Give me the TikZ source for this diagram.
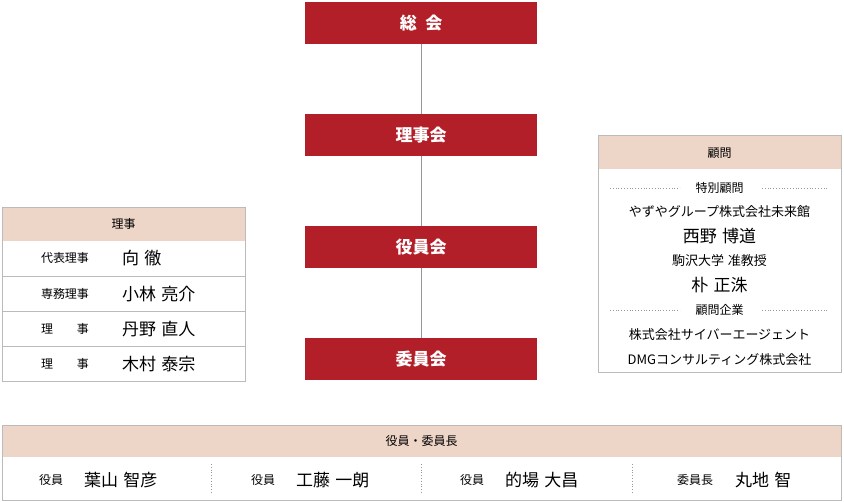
\documentclass[tikz,border=0pt]{standalone}
\usepackage{fontspec}
\setmainfont{Noto Sans CJK JP}
\begin{document}
\begin{tikzpicture}[x=1pt,y=-1pt,
  redbox/.style={fill=boxred,draw=none,minimum width=232pt,minimum height=42pt,text=white,font=\fontsize{17}{17}\selectfont\bfseries},
  hdr/.style={fill=hdrpink,draw=none},
  frame/.style={draw=framegray,line width=0.8pt},
  lbl/.style={font=\fontsize{12}{12}\selectfont,inner sep=0pt},
  nm/.style={font=\fontsize{17}{17}\selectfont,inner sep=0pt},
  dots/.style={draw=gray!80,line width=0.8pt,dotted}]
\definecolor{boxred}{HTML}{B31F28}
\definecolor{hdrpink}{HTML}{EDD5C8}
\definecolor{framegray}{HTML}{BBBBBB}
\useasboundingbox (0,0) rectangle (844,502);
% red boxes
\node[redbox] (sokai) at (421,23) {総\hspace{0.5em}会};
\node[redbox] (rijikai) at (421,135) {理事会};
\node[redbox] (yakuinkai) at (421,247) {役員会};
\node[redbox] (iinkai) at (421,359) {委員会};
\draw[framegray!80!black,line width=0.8pt] (sokai) -- (rijikai) (rijikai) -- (yakuinkai) (yakuinkai) -- (iinkai);
% left panel
\fill[hdrpink] (2,207) rectangle (245,241);
\draw[frame] (2,207) rectangle (245,381);
\foreach \y in {276,311,346} \draw[framegray,line width=0.6pt] (2,\y) -- (245,\y);
\node[lbl] (lhdr) at (123.5,224) {理事};
\node[lbl] (l1) at (65,258) {代表理事};
\node[nm,anchor=west] (n1) at (122,258) {向\hspace{0.3em}徹};
\node[lbl] (l2) at (65,294) {専務理事};
\node[nm,anchor=west] (n2) at (122,294) {小林\hspace{0.3em}亮介};
\node[lbl] (l3) at (65,329) {理\hspace{2em}事};
\node[nm,anchor=west] (n3) at (122,329) {丹野\hspace{0.3em}直人};
\node[lbl] (l4) at (65,364) {理\hspace{2em}事};
\node[nm,anchor=west] (n4) at (122,364) {木村\hspace{0.3em}泰宗};
% right panel
\fill[hdrpink] (598,135) rectangle (841,169);
\draw[frame] (598,135) rectangle (841,372);
\node[lbl] (rhdr) at (719.5,153) {顧問};
\draw[dots] (610,188) -- (680,188) (762,188) -- (828,188);
\node[lbl] (r1) at (719.5,188) {特別顧問};
\node[lbl,font=\fontsize{13}{13}\selectfont] (r2) at (719.5,212) {やずやグループ株式会社未来館};
\node[nm] (r3) at (719.5,236) {西野\hspace{0.3em}博道};
\node[lbl,font=\fontsize{13}{13}\selectfont] (r4) at (719.5,261) {駒沢大学\hspace{0.3em}准教授};
\node[nm] (r5) at (719.5,285) {朴\hspace{0.3em}正洙};
\draw[dots] (610,310) -- (680,310) (762,310) -- (828,310);
\node[lbl] (r6) at (719.5,310) {顧問企業};
\node[lbl,font=\fontsize{13}{13}\selectfont] (r7) at (719.5,335) {株式会社サイバーエージェント};
\node[lbl,font=\fontsize{13}{13}\selectfont] (r8) at (719.5,360) {DMGコンサルティング株式会社};
% bottom panel
\fill[hdrpink] (2,425) rectangle (841,457);
\draw[frame] (2,425) rectangle (841,500);
\node[lbl] (bhdr) at (421.5,441) {役員・委員長};
\foreach \x in {211,421,632} \draw[dots] (\x,464) -- (\x,494);
\node[lbl,anchor=west] (b1) at (39,480) {役員};
\node[nm,anchor=west] (bn1) at (84,480) {葉山\hspace{0.3em}智彦};
\node[lbl,anchor=west] (b2) at (251,480) {役員};
\node[nm,anchor=west] (bn2) at (296,480) {工藤\hspace{0.3em}一朗};
\node[lbl,anchor=west] (b3) at (460,480) {役員};
\node[nm,anchor=west] (bn3) at (505,480) {的場\hspace{0.3em}大昌};
\node[lbl,anchor=west] (b4) at (677,480) {委員長};
\node[nm,anchor=west] (bn4) at (735,480) {丸地\hspace{0.3em}智};
\end{tikzpicture}
\end{document}
